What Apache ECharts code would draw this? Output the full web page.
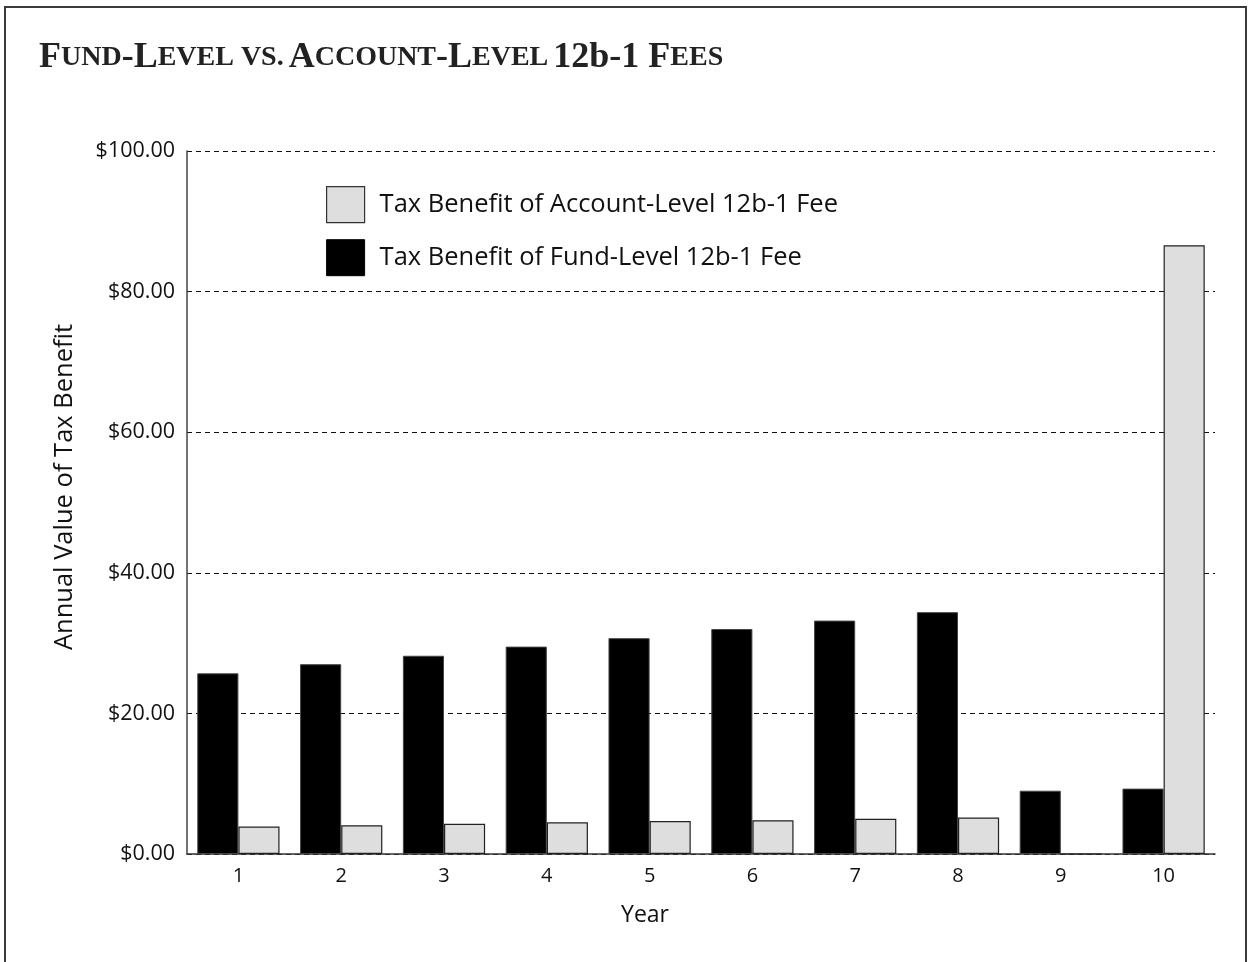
<!DOCTYPE html>
<html>
<head>
<meta charset="utf-8">
<script src="https://cdn.jsdelivr.net/npm/echarts@6/dist/echarts.min.js"></script>
<style>
html,body{margin:0;padding:0;background:#fff;}
#frame{position:absolute;left:4px;top:6px;width:1243px;height:1000px;border:2px solid #3a3a3a;border-bottom:none;box-sizing:border-box;}
#chart{position:absolute;left:0;top:0;width:1252px;height:962px;}
</style>
</head>
<body>
<div id="frame"></div>
<div id="chart"></div>
<script>
const years = ['1','2','3','4','5','6','7','8','9','10'];
const accountLevel = [3.9, 4.1, 4.3, 4.5, 4.7, 4.8, 5.0, 5.2, 0, 86.6];
const fundLevel = [25.7, 27.0, 28.2, 29.5, 30.7, 32.0, 33.2, 34.4, 9.0, 9.3];
const yTicks = {min: 0, max: 100, interval: 20};
const seriesNames = ['Tax Benefit of Account-Level 12b-1 Fee', 'Tax Benefit of Fund-Level 12b-1 Fee'];

const FONT = '"Open Sans", Lato, sans-serif';
const chart = echarts.init(document.getElementById('chart'), null, {renderer: 'canvas'});
chart.setOption({
  animation: false,
  backgroundColor: 'transparent',
  title: {
    left: 34, top: 35,
    text: '{b|F}{s|UND}{b|-L}{s|EVEL VS.} {b|A}{s|CCOUNT}{b|-L}{s|EVEL} {b|12b-1 F}{s|EES}',
    textStyle: {
      rich: {
        b: {fontFamily: '"Liberation Serif", serif', fontWeight: 'bold', fontSize: 36, color: '#222'},
        s: {fontFamily: '"Liberation Serif", serif', fontWeight: 'bold', fontSize: 28, color: '#222'}
      }
    }
  },
  legend: {
    orient: 'vertical', left: 321, top: 181,
    itemWidth: 38, itemHeight: 36, itemGap: 16,
    icon: 'rect',
    data: [
      {name: seriesNames[0], itemStyle: {color: '#dedede', borderColor: '#333', borderWidth: 1.2}},
      {name: seriesNames[1], itemStyle: {color: '#000', borderColor: '#000', borderWidth: 1}}
    ],
    textStyle: {fontFamily: FONT, fontSize: 25.5, color: '#111', padding: [0, 0, 0, 10]}
  },
  grid: {left: 187, right: 37, top: 151, bottom: 108},
  xAxis: {
    type: 'category', data: years,
    axisLine: {lineStyle: {color: '#333', width: 1.5}},
    axisTick: {show: false},
    axisLabel: {fontFamily: FONT, fontSize: 20, color: '#111', margin: 12}
  },
  yAxis: {
    type: 'value', min: yTicks.min, max: yTicks.max, interval: yTicks.interval,
    axisLine: {show: true, lineStyle: {color: '#444', width: 1.5}},
    axisTick: {show: false},
    axisLabel: {fontFamily: FONT, fontSize: 21.5, color: '#111', margin: 12,
      formatter: v => '$' + v.toFixed(2)},
    splitLine: {lineStyle: {color: '#111', type: [5, 4], width: 1}}
  },
  graphic: [
    {type: 'text', x: 645, y: 915, style: {text: 'Year', font: '23px ' + FONT, fill: '#111', align: 'center', verticalAlign: 'middle'}},
    {type: 'text', x: 65, y: 487, rotation: Math.PI / 2, style: {text: 'Annual Value of Tax Benefit', font: '25.5px ' + FONT, fill: '#111', align: 'center', verticalAlign: 'middle'}}
  ],
  series: [
    {
      name: seriesNames[1], type: 'bar', data: fundLevel,
      barGap: '0%', barCategoryGap: '20%',
      itemStyle: {color: '#000', borderColor: '#444', borderWidth: 1}
    },
    {
      name: seriesNames[0], type: 'bar', data: accountLevel,
      barGap: '0%', barCategoryGap: '20%',
      itemStyle: {color: '#dedede', borderColor: '#222', borderWidth: 1.2}
    }
  ]
});
</script>
</body>
</html>
